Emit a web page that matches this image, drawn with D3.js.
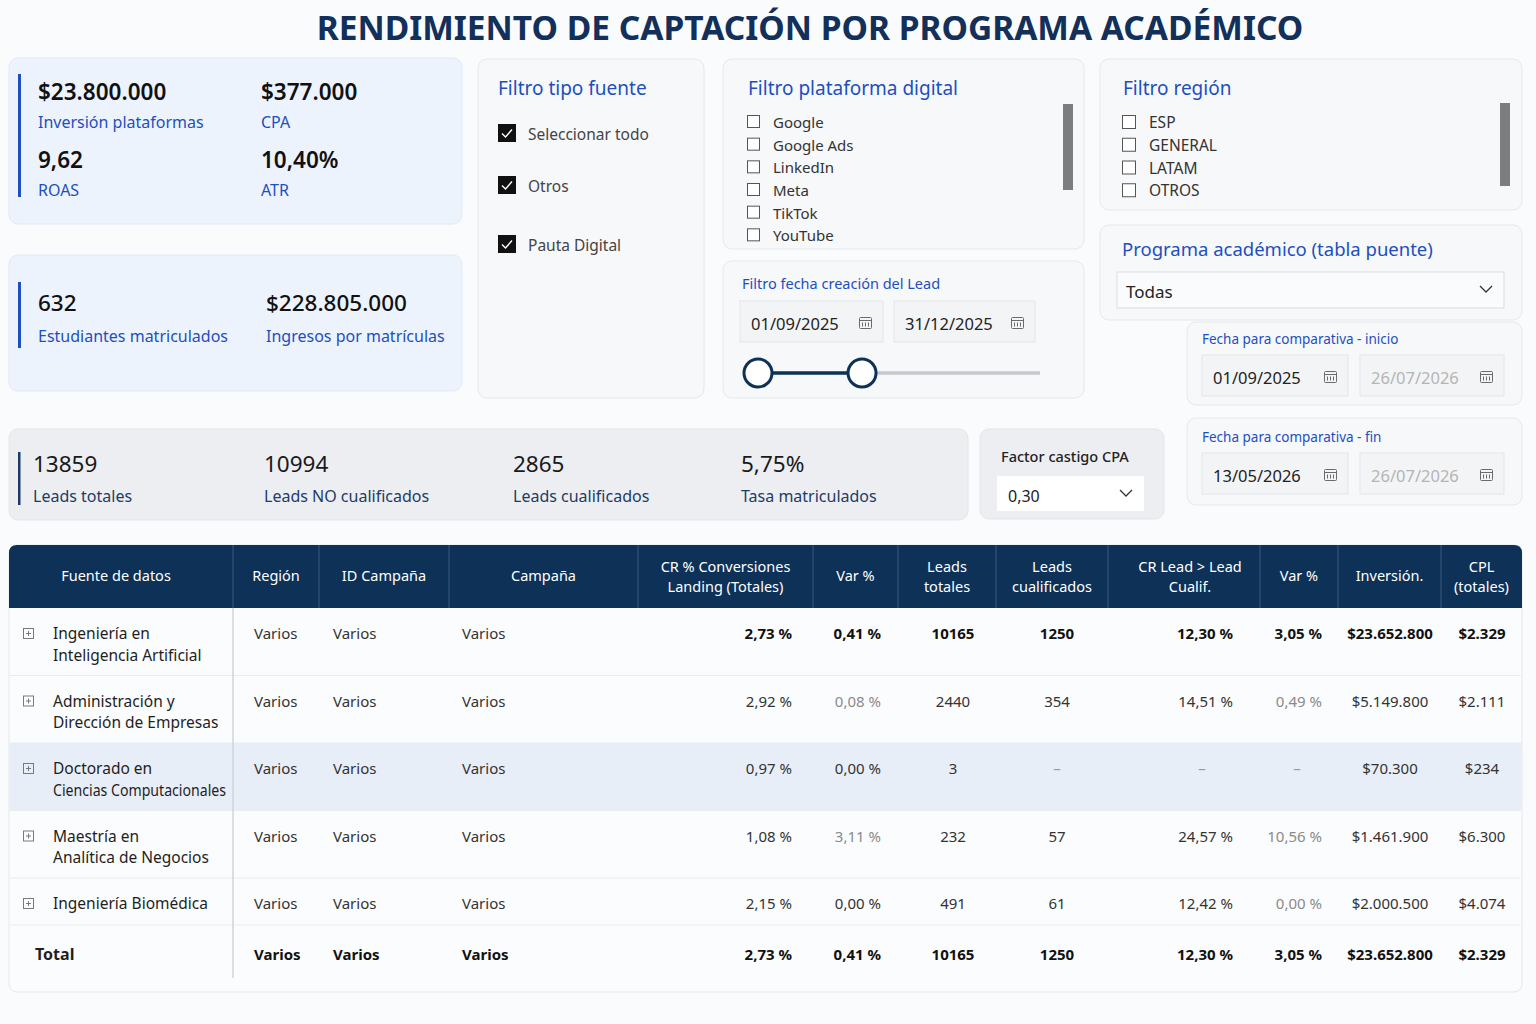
<!DOCTYPE html>
<html lang="es">
<head>
<meta charset="utf-8">
<title>Rendimiento de captación por programa académico</title>
<script src="https://cdn.jsdelivr.net/npm/d3@7"></script>
<style>
  html, body { margin: 0; padding: 0; background: #fafbfc; }
  svg { display: block; font-family: "Noto Sans", "Open Sans", sans-serif; }
</style>
</head>
<body>
<svg id="tablero"></svg>
<script>
var titulo = "RENDIMIENTO DE CAPTACIÓN POR PROGRAMA ACADÉMICO";

var kpiPlataformaEtiquetas = ["Inversión plataformas", "CPA", "ROAS", "ATR"];
var kpiPlataformaValores = [23800000, 377000, 9.62, 0.104];

var kpiMatriculaEtiquetas = ["Estudiantes matriculados", "Ingresos por matrículas"];
var kpiMatriculaValores = [632, 228805000];

var kpiLeadsEtiquetas = ["Leads totales", "Leads NO cualificados", "Leads cualificados", "Tasa matriculados"];
var kpiLeadsValores = [13859, 10994, 2865, 0.0575];

var fuenteOpciones = ["Seleccionar todo", "Otros", "Pauta Digital"];
var plataformas = ["Google", "Google Ads", "LinkedIn", "Meta", "TikTok", "YouTube"];
var regiones = ["ESP", "GENERAL", "LATAM", "OTROS"];

var fechaLeadInicio = "2025-09-01", fechaLeadFin = "2025-12-31", fechaLimite = "2026-07-26";
var comparativaInicio = ["01/09/2025", "26/07/2026"];
var comparativaFin = ["13/05/2026", "26/07/2026"];
var programaSeleccion = "Todas";
var factorCastigo = 0.30;

var programas = [
  "Ingeniería en\nInteligencia Artificial",
  "Administración y\nDirección de Empresas",
  "Doctorado en\nCiencias Computacionales",
  "Maestría en\nAnalítica de Negocios",
  "Ingeniería Biomédica"
];
var region      = ["Varios", "Varios", "Varios", "Varios", "Varios"];
var idCampana   = ["Varios", "Varios", "Varios", "Varios", "Varios"];
var campana     = ["Varios", "Varios", "Varios", "Varios", "Varios"];
var crLanding   = [2.73, 2.92, 0.97, 1.08, 2.15];
var varLanding  = [0.41, 0.08, 0.00, 3.11, 0.00];
var leadsTot    = [10165, 2440, 3, 232, 491];
var leadsCual   = [1250, 354, null, 57, 61];
var crLead      = [12.30, 14.51, null, 24.57, 12.42];
var varLead     = [3.05, 0.49, null, 10.56, 0.00];
var inversion   = [23652800, 5149800, 70300, 1461900, 2000500];
var cpl         = [2329, 2111, 234, 6300, 4074];
var totales     = ["Varios", "Varios", "Varios", 2.73, 0.41, 10165, 1250, 12.30, 3.05, 23652800, 2329];

// formato de celdas (resaltado condicional)
var filasNegrita = [0];
var filaResaltada = 2;
var celdasAtenuadas = [[1, "varLanding"], [3, "varLanding"], [1, "varLead"], [3, "varLead"], [4, "varLead"]];

// ---- formatos ----
var es = d3.formatLocale({decimal: ",", thousands: ".", grouping: [3], currency: ["$", ""]});
var fMoneda = es.format("$,.0f");
var fDec = es.format(".2f");
var fPct = es.format(".2%");
var fEntero = es.format("d");
var fCelda = function(v) { return fDec(v) + " %"; };

var W = 1536, H = 1024;
var azul = "#1d4fc0", marino = "#0d3157";
var svg = d3.select("#tablero").attr("width", W).attr("height", H);

svg.append("rect").attr("width", W).attr("height", H).attr("fill", "#fafbfc");

function panel(x, y, w, h, fill, stroke) {
  svg.append("rect").attr("x", x).attr("y", y).attr("width", w).attr("height", h)
    .attr("rx", 9).attr("fill", fill).attr("stroke", stroke || "#e6e8ec");
}
function texto(x, y, t, size, color, weight, anchor) {
  return svg.append("text").attr("x", x).attr("y", y).text(t)
    .attr("font-size", size).attr("fill", color)
    .attr("font-weight", weight || 400).attr("text-anchor", anchor || "start");
}
function calendario(x, y) {
  var c = svg.append("g").attr("transform", "translate(" + x + "," + y + ")")
    .attr("fill", "none").attr("stroke", "#6b6b6b").attr("stroke-width", 1);
  c.append("rect").attr("x", 0.5).attr("y", 1.5).attr("width", 12).attr("height", 11).attr("rx", 1);
  c.append("line").attr("x1", 0.5).attr("x2", 12.5).attr("y1", 4.5).attr("y2", 4.5);
  [3.5, 6.5, 9.5].forEach(function(gx) {
    c.append("line").attr("x1", gx).attr("x2", gx).attr("y1", 6.5).attr("y2", 10.5);
  });
}
function chevron(x, y) {
  svg.append("path").attr("d", "M" + (x - 6) + "," + (y - 3) + " l6,6 l6,-6")
    .attr("fill", "none").attr("stroke", "#333").attr("stroke-width", 1.3);
}
function cajaFecha(x, y, w, t, color) {
  svg.append("rect").attr("x", x).attr("y", y).attr("width", w).attr("height", 41)
    .attr("fill", "#f3f4f6").attr("stroke", "#e3e5e9");
  texto(x + 11, y + 29, t, 16.5, color, 400);
  calendario(x + w - 24, y + 15);
}

// ---- titulo ----
texto(810, 40, titulo, 33.5, "#12305a", 700, "middle");

// ---- KPI inversion ----
panel(9, 58, 453, 166, "#edf3fc", "#e2e9f4");
svg.append("rect").attr("x", 18).attr("y", 74).attr("width", 3).attr("height", 123).attr("fill", azul);
var kpiPos = [[38, 100], [261, 100], [38, 168], [261, 168]];
var kpiFmt = [fMoneda, fMoneda, es.format(".2f"), fPct];
svg.selectAll("text.kpi1v").data(kpiPlataformaValores).join("text").attr("class", "kpi1v")
  .attr("x", function(d, i) { return kpiPos[i][0]; }).attr("y", function(d, i) { return kpiPos[i][1]; })
  .attr("font-size", 22.5).attr("font-weight", 600).attr("fill", "#111")
  .text(function(d, i) { return kpiFmt[i](d); });
svg.selectAll("text.kpi1e").data(kpiPlataformaEtiquetas).join("text").attr("class", "kpi1e")
  .attr("x", function(d, i) { return kpiPos[i][0]; }).attr("y", function(d, i) { return kpiPos[i][1] + 28; })
  .attr("font-size", 16).attr("fill", azul).text(function(d) { return d; });

// ---- KPI matriculas ----
panel(9, 255, 453, 136, "#edf3fc", "#e2e9f4");
svg.append("rect").attr("x", 18).attr("y", 282).attr("width", 3).attr("height", 66).attr("fill", azul);
var kpi2x = [38, 266], kpi2Fmt = [fEntero, fMoneda];
svg.selectAll("text.kpi2v").data(kpiMatriculaValores).join("text").attr("class", "kpi2v")
  .attr("x", function(d, i) { return kpi2x[i]; }).attr("y", 311)
  .attr("font-size", 22.5).attr("font-weight", 500).attr("fill", "#111")
  .text(function(d, i) { return kpi2Fmt[i](d); });
svg.selectAll("text.kpi2e").data(kpiMatriculaEtiquetas).join("text").attr("class", "kpi2e")
  .attr("x", function(d, i) { return kpi2x[i]; }).attr("y", 342)
  .attr("font-size", 16).attr("fill", azul).text(function(d) { return d; });

// ---- Filtro tipo fuente ----
panel(478, 59, 226, 339, "#f7f8fa");
texto(498, 95, "Filtro tipo fuente", 19, azul);
var fuenteY = d3.scaleOrdinal().domain(fuenteOpciones).range([124, 176, 235]);
var gf = svg.selectAll("g.fuente").data(fuenteOpciones).join("g").attr("class", "fuente")
  .attr("transform", function(d) { return "translate(498," + fuenteY(d) + ")"; });
gf.append("rect").attr("width", 18).attr("height", 18).attr("fill", "#111");
gf.append("path").attr("d", "M4,9.5 l3.5,3.5 l6.5,-7.5").attr("fill", "none").attr("stroke", "#fff").attr("stroke-width", 1.4);
gf.append("text").attr("x", 30).attr("y", 16).attr("font-size", 15.5).attr("fill", "#444").text(function(d) { return d; });

// ---- Filtro plataforma digital ----
panel(723, 59, 361, 190, "#f7f8fa");
texto(748, 95, "Filtro plataforma digital", 19, azul);
var platY = d3.scaleBand().domain(plataformas).range([111, 247]);
var gp = svg.selectAll("g.plat").data(plataformas).join("g").attr("class", "plat")
  .attr("transform", function(d) { return "translate(747," + platY(d) + ")"; });
gp.append("rect").attr("x", 0.5).attr("y", 4.5).attr("width", 12).attr("height", 12).attr("fill", "#fff").attr("stroke", "#555");
gp.append("text").attr("x", 26).attr("y", 17).attr("font-size", 15).attr("fill", "#333").text(function(d) { return d; });
svg.append("rect").attr("x", 1063).attr("y", 104).attr("width", 10).attr("height", 86).attr("fill", "#7d7d7d");

// ---- Filtro fecha creacion del Lead ----
panel(723, 261, 361, 137, "#f7f8fa");
texto(742, 289, "Filtro fecha creación del Lead", 14.5, azul);
var parse = d3.timeParse("%Y-%m-%d"), fFecha = d3.timeFormat("%d/%m/%Y");
cajaFecha(740, 301, 143, fFecha(parse(fechaLeadInicio)), "#222");
cajaFecha(894, 301, 141, fFecha(parse(fechaLeadFin)), "#222");
var sx = d3.scaleTime().domain([parse(fechaLeadInicio), parse(fechaLimite)]).range([758, 1040]);
svg.append("line").attr("x1", sx(parse(fechaLeadFin))).attr("x2", sx.range()[1]).attr("y1", 373).attr("y2", 373)
  .attr("stroke", "#c5c8cc").attr("stroke-width", 3.5);
svg.append("line").attr("x1", sx(parse(fechaLeadInicio))).attr("x2", sx(parse(fechaLeadFin))).attr("y1", 373).attr("y2", 373)
  .attr("stroke", marino).attr("stroke-width", 3.5);
svg.selectAll("circle.asa").data([fechaLeadInicio, fechaLeadFin]).join("circle").attr("class", "asa")
  .attr("cx", function(d) { return sx(parse(d)); }).attr("cy", 373).attr("r", 14)
  .attr("fill", "#fff").attr("stroke", marino).attr("stroke-width", 3);

// ---- Filtro region ----
panel(1100, 59, 422, 151, "#f7f8fa");
texto(1123, 95, "Filtro región", 19, azul);
var regY = d3.scaleBand().domain(regiones).range([111, 202]);
var gr = svg.selectAll("g.reg").data(regiones).join("g").attr("class", "reg")
  .attr("transform", function(d) { return "translate(1122," + regY(d) + ")"; });
gr.append("rect").attr("x", 0.5).attr("y", 4.5).attr("width", 13).attr("height", 13).attr("fill", "#fff").attr("stroke", "#555");
gr.append("text").attr("x", 27).attr("y", 17).attr("font-size", 15.5).attr("fill", "#333").text(function(d) { return d; });
svg.append("rect").attr("x", 1500).attr("y", 103).attr("width", 10).attr("height", 83).attr("fill", "#7d7d7d");

// ---- Programa academico ----
panel(1100, 225, 422, 95, "#f7f8fa");
texto(1122, 256, "Programa académico (tabla puente)", 18.5, azul);
svg.append("rect").attr("x", 1117).attr("y", 272).attr("width", 387).attr("height", 36).attr("fill", "#fafbfc").attr("stroke", "#d9dde2");
texto(1126, 298, programaSeleccion, 17, "#222");
chevron(1486, 289);

// ---- Fechas comparativa ----
panel(1187, 322, 335, 83, "#f7f8fa");
texto(1202, 344, "Fecha para comparativa - inicio", 13.5, azul);
cajaFecha(1202, 355, 146, comparativaInicio[0], "#222");
cajaFecha(1360, 355, 144, comparativaInicio[1], "#b5b5b5");
panel(1187, 418, 335, 87, "#f7f8fa");
texto(1202, 442, "Fecha para comparativa - fin", 13.5, azul);
cajaFecha(1202, 453, 146, comparativaFin[0], "#222");
cajaFecha(1360, 453, 144, comparativaFin[1], "#b5b5b5");

// ---- KPI leads ----
panel(9, 429, 959, 91, "#eceef1", "#e3e5e8");
svg.append("rect").attr("x", 18).attr("y", 452).attr("width", 2.5).attr("height", 53).attr("fill", "#1b3a66");
var kpi3x = [33, 264, 513, 741], kpi3Fmt = [fEntero, fEntero, fEntero, fPct];
svg.selectAll("text.kpi3v").data(kpiLeadsValores).join("text").attr("class", "kpi3v")
  .attr("x", function(d, i) { return kpi3x[i]; }).attr("y", 472)
  .attr("font-size", 22.5).attr("fill", "#1a1a1a").text(function(d, i) { return kpi3Fmt[i](d); });
svg.selectAll("text.kpi3e").data(kpiLeadsEtiquetas).join("text").attr("class", "kpi3e")
  .attr("x", function(d, i) { return kpi3x[i]; }).attr("y", 502)
  .attr("font-size", 16).attr("fill", "#1e3c66").text(function(d) { return d; });

// ---- Factor castigo CPA ----
panel(980, 429, 184, 90, "#eceef1", "#e3e5e8");
texto(1001, 462, "Factor castigo CPA", 14.5, "#222", 500);
svg.append("rect").attr("x", 997).attr("y", 476).attr("width", 147).attr("height", 35).attr("fill", "#fff");
texto(1008, 502, fDec(factorCastigo), 16, "#222");
chevron(1126, 493);

// ---- Tabla ----
var columnas = [
  {key: "fuente",     titulo: ["Fuente de datos"],                   x0: 9,    x1: 233},
  {key: "region",     titulo: ["Región"],                            x0: 233,  x1: 319,  ax: 254,  al: "start"},
  {key: "id",         titulo: ["ID Campaña"],                        x0: 319,  x1: 449,  ax: 333,  al: "start"},
  {key: "campana",    titulo: ["Campaña"],                           x0: 449,  x1: 638,  ax: 462,  al: "start"},
  {key: "crLanding",  titulo: ["CR % Conversiones", "Landing (Totales)"], x0: 638, x1: 813, ax: 792, al: "end", f: fCelda},
  {key: "varLanding", titulo: ["Var %"],                             x0: 813,  x1: 898,  ax: 881,  al: "end", f: fCelda},
  {key: "leadsTot",   titulo: ["Leads", "totales"],                  x0: 898,  x1: 996,  ax: 953,  al: "middle", f: fEntero},
  {key: "leadsCual",  titulo: ["Leads", "cualificados"],             x0: 996,  x1: 1108, ax: 1057, al: "middle", f: fEntero, dx: 1057},
  {key: "crLead",     titulo: ["CR Lead > Lead", "Cualif."],         x0: 1108, x1: 1260, ax: 1233, al: "end", f: fCelda, dx: 1202},
  {key: "varLead",    titulo: ["Var %"],                             x0: 1260, x1: 1338, ax: 1322, al: "end", f: fCelda, dx: 1297},
  {key: "inversion",  titulo: ["Inversión."],                        x0: 1338, x1: 1441, ax: 1390, al: "middle", f: fMoneda},
  {key: "cpl",        titulo: ["CPL", "(totales)"],                  x0: 1441, x1: 1522, ax: 1482, al: "middle", f: fMoneda}
];
var series = {region: region, id: idCampana, campana: campana, crLanding: crLanding, varLanding: varLanding,
  leadsTot: leadsTot, leadsCual: leadsCual, crLead: crLead, varLead: varLead, inversion: inversion, cpl: cpl};

var filas = programas.map(function(p, i) {
  var v = {};
  columnas.slice(1).forEach(function(c) { v[c.key] = series[c.key][i]; });
  return {i: i, lineas: p.split("\n"), valores: v, total: false};
});
var vt = {};
columnas.slice(1).forEach(function(c, j) { vt[c.key] = totales[j]; });
filas.push({i: filas.length, lineas: ["Total"], valores: vt, total: true});

var alto = filas.map(function(f) { return f.total ? 55 : (f.lineas.length > 1 ? 67.5 : 47); });
var tops = [608].concat(Array.from(d3.cumsum(alto), function(s) { return 608 + s; }));

// marco
svg.append("rect").attr("x", 9).attr("y", 545).attr("width", 1513).attr("height", 447)
  .attr("rx", 8).attr("fill", "#fbfcfd").attr("stroke", "#e5e7eb");
svg.append("path").attr("d", "M9,608 V553 Q9,545 17,545 H1514 Q1522,545 1522,553 V608 Z").attr("fill", marino);

// encabezados
var gh = svg.selectAll("g.enc").data(columnas).join("g").attr("class", "enc");
gh.filter(function(d, i) { return i > 0; }).append("line")
  .attr("x1", function(d) { return d.x0; }).attr("x2", function(d) { return d.x0; })
  .attr("y1", 545).attr("y2", 608).attr("stroke", "#3a5a80").attr("stroke-width", 1);
gh.selectAll("text").data(function(d) { return d.titulo.map(function(t, k) { return {t: t, k: k, n: d.titulo.length, c: d}; }); })
  .join("text")
  .attr("x", function(d) { return (d.c.x0 + d.c.x1) / 2 + (d.c.key === "crLead" ? 6 : 0) - (d.c.key === "fuente" ? 5 : 0); })
  .attr("y", function(d) { return d.n === 1 ? 581 : 572 + d.k * 20; })
  .attr("text-anchor", "middle").attr("font-size", 14.5).attr("fill", "#fff")
  .text(function(d) { return d.t; });

// fondo de fila resaltada y separadores
svg.append("rect").attr("x", 9.5).attr("y", tops[filaResaltada]).attr("width", 1512)
  .attr("height", alto[filaResaltada]).attr("fill", "#e7eef8");
svg.selectAll("line.sep").data(tops.slice(1, filas.length)).join("line").attr("class", "sep")
  .attr("x1", 10).attr("x2", 1521).attr("y1", function(d) { return d; }).attr("y2", function(d) { return d; })
  .attr("stroke", "#eaedf0");
svg.append("line").attr("x1", 233).attr("x2", 233).attr("y1", 608).attr("y2", 978).attr("stroke", "#cfd5dc").attr("stroke-width", 1.5);

var atenuada = function(i, k) { return celdasAtenuadas.some(function(c) { return c[0] === i && c[1] === k; }); };
var negrita = function(d) { return d.f.total || (filasNegrita.indexOf(d.f.i) >= 0 && typeof d.v === "number"); };

var gFila = svg.selectAll("g.fila").data(filas).join("g").attr("class", "fila")
  .attr("transform", function(d) { return "translate(0," + tops[d.i] + ")"; });

// icono expandir
var gi = gFila.filter(function(d) { return !d.total; }).append("g").attr("transform", "translate(23,20)")
  .attr("fill", "none").attr("stroke", "#7a7a7a").attr("stroke-width", 1);
gi.append("rect").attr("x", 0.5).attr("y", 0.5).attr("width", 10).attr("height", 10);
gi.append("path").attr("d", "M3,5.5 H8 M5.5,3 V8");

// nombre del programa
gFila.append("text").attr("x", function(d) { return d.total ? 35 : 53; })
  .attr("font-size", function(d) { return d.total ? 16 : 15.5; })
  .attr("font-weight", function(d) { return d.total ? 700 : 400; })
  .attr("fill", "#1f1f1f")
  .selectAll("tspan").data(function(d) { return d.lineas.map(function(l, k) { return {l: l, k: k, total: d.total}; }); })
  .join("tspan").attr("x", function(d) { return d.total ? 35 : 53; })
  .attr("y", function(d) { return d.total ? 35 : 31 + d.k * 21.5; })
  .text(function(d) { return d.l; })
  .each(function() {
    // que el nombre no invada la columna Region
    if (this.getComputedTextLength() > 173) {
      d3.select(this).attr("textLength", 173).attr("lengthAdjust", "spacingAndGlyphs");
    }
  });

// valores
gFila.selectAll("text.val").data(function(f) {
  return columnas.slice(1).map(function(c) { return {c: c, v: f.valores[c.key], f: f}; });
}).join("text").attr("class", "val")
  .attr("x", function(d) { return d.v === null ? (d.c.dx || d.c.ax) : d.c.ax; })
  .attr("y", function(d) { return d.f.total ? 35 : 31; })
  .attr("text-anchor", function(d) { return d.v === null ? "middle" : d.c.al; })
  .attr("font-size", 15)
  .attr("font-weight", function(d) { return negrita(d) ? 700 : 400; })
  .attr("fill", function(d) {
    if (d.v === null) return "#999";
    if (atenuada(d.f.i, d.c.key)) return "#8a8a8a";
    return negrita(d) ? "#111" : "#333";
  })
  .text(function(d) { return d.v === null ? "–" : (d.c.f ? d.c.f(d.v) : d.v); });
</script>
</body>
</html>
